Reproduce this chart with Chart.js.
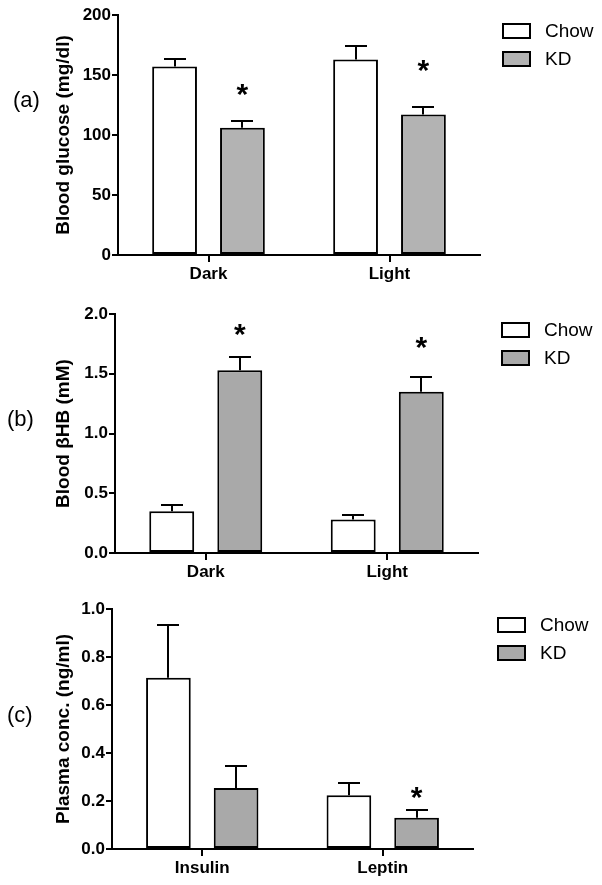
<!DOCTYPE html>
<html><head><meta charset="utf-8">
<script src="https://cdn.jsdelivr.net/npm/chart.js@4.4.1/dist/chart.umd.min.js"></script>
<style>
html,body{margin:0;padding:0;background:#fff;width:602px;height:885px;overflow:hidden}
canvas{position:absolute;left:0}
</style></head><body>
<canvas id="ca" width="602" height="290" style="top:0px"></canvas>
<canvas id="cb" width="602" height="290" style="top:290px"></canvas>
<canvas id="cc" width="602" height="305" style="top:580px"></canvas>
<script>
// ---------- DATA ----------
const seriesNames = ['Chow', 'KD'];

const catsAB = ['Dark', 'Light'];
const glucoseChow = [157, 163];
const glucoseChowErr = [6, 11];
const glucoseKD = [106, 117];
const glucoseKDErr = [5.5, 6];
const glucoseStarY = [140, 160];          // asterisk height (mg/dl) over KD bars
const glucoseTicks = ['0', '50', '100', '150', '200'];

const bhbChow = [0.35, 0.28];
const bhbChowErr = [0.05, 0.035];
const bhbKD = [1.53, 1.35];
const bhbKDErr = [0.11, 0.12];
const bhbStarY = [1.89, 1.78];
const bhbTicks = ['0.0', '0.5', '1.0', '1.5', '2.0'];

const catsC = ['Insulin', 'Leptin'];
const plasmaChow = [0.714, 0.224];
const plasmaChowErr = [0.22, 0.052];
const plasmaKD = [0.254, 0.13];
const plasmaKDErr = [0.093, 0.033];
const plasmaStarY = [null, 0.246];
const plasmaTicks = ['0.0', '0.2', '0.4', '0.6', '0.8', '1.0'];

// ---------- RENDER ----------
const FONT = "'Liberation Sans', Arial, Helvetica, sans-serif";
Chart.defaults.font.family = FONT;
Chart.defaults.color = '#000';

function extras(opts) {
  return {
    id: 'extras',
    afterDatasetsDraw(chart) {
      const ctx = chart.ctx;
      const ys = chart.scales.y;
      ctx.save();
      ctx.strokeStyle = '#000';
      ctx.lineWidth = 2;
      chart.data.datasets.forEach((ds, di) => {
        const meta = chart.getDatasetMeta(di);
        meta.data.forEach((bar, i) => {
          const v = ds.data[i], e = ds.errors[i];
          const x = Math.round(bar.x);
          const y0 = ys.getPixelForValue(v), y1 = Math.round(ys.getPixelForValue(v + e));
          ctx.beginPath();
          ctx.moveTo(x, y0); ctx.lineTo(x, y1);
          ctx.moveTo(x - 11, y1); ctx.lineTo(x + 11, y1);
          ctx.stroke();
          if (ds.stars && ds.stars[i] != null) {
            ctx.fillStyle = '#000';
            ctx.font = 'bold 30px ' + FONT;
            ctx.textAlign = 'center';
            ctx.textBaseline = 'alphabetic';
            ctx.fillText('*', bar.x, ys.getPixelForValue(ds.stars[i]) + 17);
          }
        });
      });
      // legend
      chart.data.datasets.forEach((ds, di) => {
        const bx = opts.legX, by = opts.legY + di * 28;
        ctx.fillStyle = ds.backgroundColor;
        ctx.fillRect(bx, by, 27, 14);
        ctx.strokeRect(bx, by, 27, 14);
        ctx.fillStyle = '#000';
        ctx.font = '19px ' + FONT;
        ctx.textAlign = 'left';
        ctx.textBaseline = 'middle';
        ctx.fillText(ds.label, bx + 42, by + 8);
      });
      // panel label
      ctx.font = '22px ' + FONT;
      ctx.textAlign = 'left';
      ctx.textBaseline = 'middle';
      ctx.fillText(opts.panel, opts.panelX, opts.panelY);
      ctx.restore();
    }
  };
}

function makeChart(id, cats, chow, chowErr, kd, kdErr, stars, ticks, yMax, yStep, title, kdColor, lay) {
  const H = document.getElementById(id).height;
  return new Chart(document.getElementById(id), {
    type: 'bar',
    data: {
      labels: cats,
      datasets: [
        { label: seriesNames[0], data: chow, errors: chowErr, backgroundColor: '#ffffff',
          borderColor: '#000', borderWidth: 2, borderSkipped: false,
          categoryPercentage: 0.75, barPercentage: 0.66 },
        { label: seriesNames[1], data: kd, errors: kdErr, stars: stars, backgroundColor: kdColor,
          borderColor: '#000', borderWidth: 2, borderSkipped: false,
          categoryPercentage: 0.75, barPercentage: 0.66 }
      ]
    },
    options: {
      responsive: false,
      animation: false,
      devicePixelRatio: 1,
      layout: { padding: { left: 0, right: 602 - lay.right, top: lay.top, bottom: 0 } },
      plugins: { legend: { display: false }, tooltip: { enabled: false } },
      scales: {
        x: {
          grid: { display: true, drawOnChartArea: false, drawTicks: true, tickLength: 7, lineWidth: 2, color: '#000', offset: false },
          border: { display: true, color: '#000', width: 2 },
          ticks: { font: { size: 17, weight: 'bold' }, padding: 2, color: '#000' },
          afterFit(s) { s.height = H - lay.bottom; }
        },
        y: {
          min: 0, max: yMax,
          grid: { display: true, drawOnChartArea: false, drawTicks: true, tickLength: 6, lineWidth: 2, color: '#000' },
          border: { display: true, color: '#000', width: 2 },
          ticks: { stepSize: yStep, autoSkip: false, padding: 1, color: '#000',
                   font: { size: 17, weight: 'bold' },
                   callback: (v, i) => ticks[i] },
          title: { display: true, text: title, color: '#000', font: { size: 19, weight: 'bold' },
                   padding: { top: lay.titlePad, bottom: 0 } },
          afterFit(s) { s.width = lay.left; }
        }
      }
    },
    plugins: [extras(lay)]
  });
}

makeChart('ca', catsAB, glucoseChow, glucoseChowErr, glucoseKD, glucoseKDErr, glucoseStarY, glucoseTicks,
  200, 50, 'Blood glucose (mg/dl)', '#b3b3b3',
  { left: 118, right: 480, top: 15, bottom: 255, titlePad: 52, legX: 503, legY: 24, panel: '(a)', panelX: 13, panelY: 101 });

makeChart('cb', catsAB, bhbChow, bhbChowErr, bhbKD, bhbKDErr, bhbStarY, bhbTicks,
  2.0, 0.5, 'Blood \u03B2HB (mM)', '#a9a9a9',
  { left: 115, right: 478, top: 24, bottom: 263, titlePad: 52, legX: 502, legY: 33, panel: '(b)', panelX: 7, panelY: 130 });

makeChart('cc', catsC, plasmaChow, plasmaChowErr, plasmaKD, plasmaKDErr, plasmaStarY, plasmaTicks,
  1.0, 0.2, 'Plasma conc. (ng/ml)', '#a9a9a9',
  { left: 112, right: 473, top: 29, bottom: 269, titlePad: 52, legX: 498, legY: 38, panel: '(c)', panelX: 7, panelY: 136 });
</script>
</body></html>
